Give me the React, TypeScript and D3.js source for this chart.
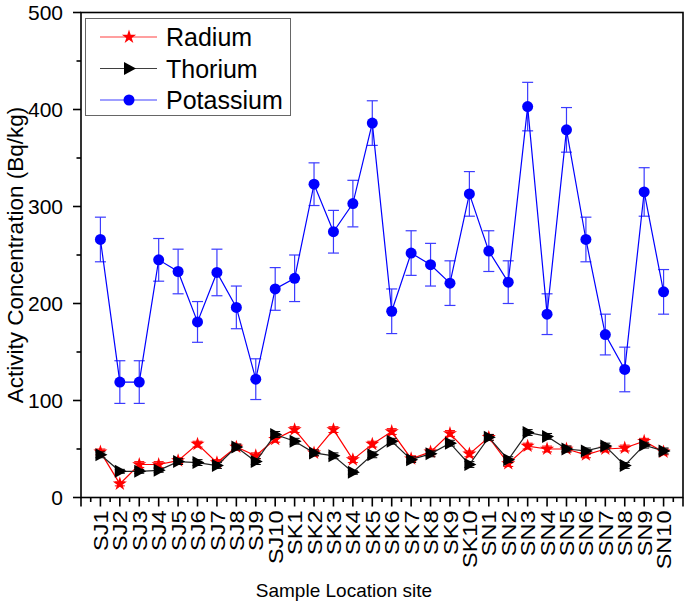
import React from "react";
import * as d3 from "d3";

const sites = [
  "SJ1","SJ2","SJ3","SJ4","SJ5","SJ6","SJ7","SJ8","SJ9","SJ10",
  "SK1","SK2","SK3","SK4","SK5","SK6","SK7","SK8","SK9","SK10",
  "SN1","SN2","SN3","SN4","SN5","SN6","SN7","SN8","SN9","SN10",
];
const radium = [47,14,34,34,38,55,36,52,43,60,70,46,70,39,55,68,40,47,66,45,62,35,53,50,50,44,50,51,58,47];
const radiumErr = [3,2,3,3,3,3,3,3,3,3,3,3,3,3,3,3,3,3,3,3,3,3,3,3,3,3,3,3,3,3];
const thorium = [44,27,27,28,37,36,33,52,37,65,58,46,43,26,44,58,39,45,56,34,62,39,67,63,50,48,53,33,54,48];
const thoriumErr = [3,2,2,2,3,3,3,3,3,3,3,3,3,2,3,3,3,3,3,3,3,3,3,3,3,3,3,3,3,3];
const potassium = [266,119,119,245,233,181,232,196,122,215,226,323,274,303,386,192,252,240,221,313,254,222,403,189,379,266,168,132,315,212];
const potassiumErr = [23,22,22,22,23,21,24,22,21,22,24,22,22,24,23,23,23,22,23,23,21,22,25,21,23,23,21,23,25,23];
const yTicks = [0,100,200,300,400,500];
const yMinor = [50,150,250,350,450];

const FONT = "'Liberation Sans', Arial, sans-serif";

export default function App() {
  const W = 685, H = 602;
  const L = 81, R = 683, T = 12.5, B = 497.5;
  const x = d3.scaleLinear().domain([0, sites.length + 1]).range([L, R]);
  const y = d3.scaleLinear().domain([0, 500]).range([B, T]);
  const idx = sites.map((_, i) => i + 1);

  const line = d3.line<number>().x((_, i) => x(i + 1)).y((d) => y(d));
  const star = d3.symbol().type(d3.symbolStar).size(62)()!;
  const tri = "M-5,-6.5L-5,6.5L7,0Z";

  const errBars = (vals: number[], errs: number[], color: string, cap: number, sw: number) =>
    vals.map((v, i) => {
      const cx = x(i + 1);
      const y1 = y(v + errs[i]), y2 = y(v - errs[i]);
      return (
        <g key={i} stroke={color} strokeWidth={sw} fill="none">
          <line x1={cx} x2={cx} y1={y1} y2={y2} />
          <line x1={cx - cap} x2={cx + cap} y1={y1} y2={y1} />
          <line x1={cx - cap} x2={cx + cap} y1={y2} y2={y2} />
        </g>
      );
    });

  const majorX = d3.range(0, sites.length + 2);
  const minorX = d3.range(0.5, sites.length + 1, 1);

  const legend = [
    { name: "Radium", color: "#ff0000", marker: "star" },
    { name: "Thorium", color: "#000000", marker: "tri" },
    { name: "Potassium", color: "#0000ff", marker: "circle" },
  ];

  return (
    <div style={{ position: "absolute", left: 0, top: 0 }}>
      <svg width={W} height={H} style={{ display: "block", background: "#fff" }} fontFamily={FONT}>
        {/* series: radium */}
        {errBars(radium, radiumErr, "#ff0000", 5, 1)}
        <path d={line(radium)!} fill="none" stroke="#ff0000" strokeWidth={1.2} />
        {radium.map((v, i) => (
          <path key={i} d={star} transform={`translate(${x(i + 1)},${y(v)})`} fill="#ff0000" />
        ))}
        {/* thorium */}
        {errBars(thorium, thoriumErr, "#000000", 5, 1)}
        <path d={line(thorium)!} fill="none" stroke="#222" strokeWidth={1.2} />
        {thorium.map((v, i) => (
          <path key={i} d={tri} transform={`translate(${x(i + 1)},${y(v)})`} fill="#000" />
        ))}
        {/* potassium */}
        {errBars(potassium, potassiumErr, "#3b3bff", 5.5, 1.2)}
        <path d={line(potassium)!} fill="none" stroke="#0000ff" strokeWidth={1.2} />
        {potassium.map((v, i) => (
          <circle key={i} cx={x(i + 1)} cy={y(v)} r={5.5} fill="#0000ff" />
        ))}

        {/* frame */}
        <rect x={L} y={T} width={R - L} height={B - T} fill="none" stroke="#000" strokeWidth={1.6} />

        {/* y axis ticks */}
        {yTicks.map((t) => (
          <g key={t}>
            <line x1={L - 8} x2={L} y1={y(t)} y2={y(t)} stroke="#000" strokeWidth={1.6} />
            <text x={L - 18} y={y(t)} dy="0.36em" textAnchor="end" fontSize={21}>{t}</text>
          </g>
        ))}
        {yMinor.map((t) => (
          <line key={t} x1={L - 4.5} x2={L} y1={y(t)} y2={y(t)} stroke="#000" strokeWidth={1.6} />
        ))}

        {/* x axis ticks */}
        {majorX.map((t) => (
          <line key={t} x1={x(t)} x2={x(t)} y1={B} y2={B + 9} stroke="#000" strokeWidth={1.6} />
        ))}
        {minorX.map((t) => (
          <line key={t} x1={x(t)} x2={x(t)} y1={B} y2={B + 4.5} stroke="#000" strokeWidth={1.6} />
        ))}
        {idx.map((t, i) => (
          <text
            key={t}
            transform={`translate(${x(t)},${B + 13}) rotate(-90) scale(1.12,1)`}
            dy="0.36em"
            textAnchor="end"
            fontSize={21}
          >
            {sites[i]}
          </text>
        ))}

        {/* axis titles */}
        <text x={344} y={597} textAnchor="middle" fontSize={19}>Sample Location site</text>
        <text transform={`translate(15,${(T + B) / 2}) rotate(-90)`} textAnchor="middle" dy="0.36em" fontSize={22.5}>
          Activity Concentration (Bq/kg)
        </text>

        {/* legend */}
        <rect x={85.5} y={18.5} width={205} height={97} fill="#fff" stroke="#666" strokeWidth={1} />
        {legend.map((l, i) => {
          const ly = 37 + i * 31.5;
          return (
            <g key={l.name}>
              <line x1={100} x2={157} y1={ly} y2={ly} stroke={l.color} strokeWidth={1.2} opacity={0.75} />
              {l.marker === "star" && <path d={star} transform={`translate(129,${ly})`} fill={l.color} />}
              {l.marker === "tri" && <path d={tri} transform={`translate(129,${ly})`} fill={l.color} />}
              {l.marker === "circle" && <circle cx={129} cy={ly} r={5.5} fill={l.color} />}
              <text x={166} y={ly} dy="0.36em" fontSize={25}>{l.name}</text>
            </g>
          );
        })}
      </svg>
    </div>
  );
}
